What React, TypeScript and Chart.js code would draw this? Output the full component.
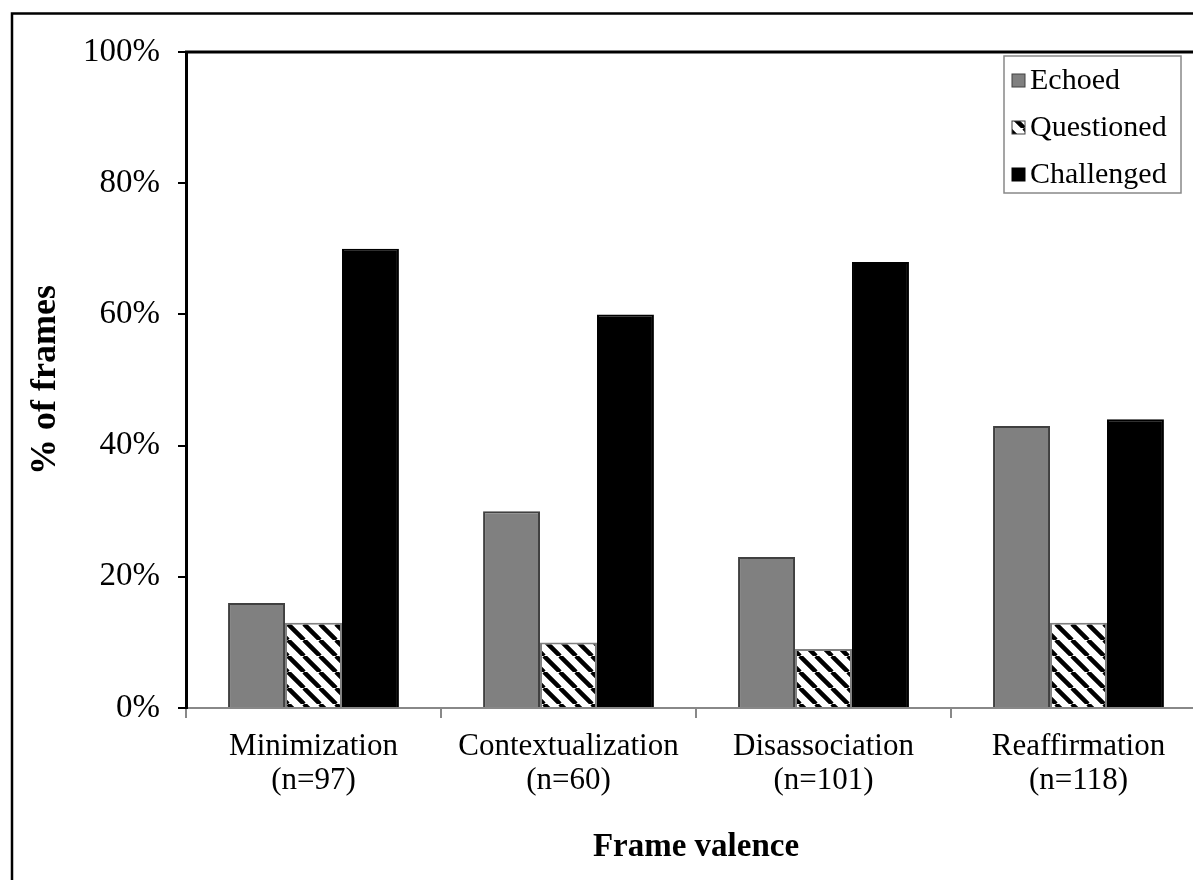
import React, { useEffect, useRef } from "react";
import { Chart, registerables } from "chart.js";

Chart.register(...registerables);

const categories: string[][] = [
  ["Minimization", "(n=97)"],
  ["Contextualization", "(n=60)"],
  ["Disassociation", "(n=101)"],
  ["Reaffirmation", "(n=118)"],
];
const seriesNames = ["Echoed", "Questioned", "Challenged"];
const echoed = [16, 30, 23, 43];
const questioned = [13, 10, 9, 13];
const challenged = [70, 60, 68, 44];
const yMin = 0;
const yMax = 100;
const yStep = 20;

const W = 1240;
const H = 880;
const FONT = '"Liberation Serif", "Times New Roman", serif';

function makeHatch(ctx: CanvasRenderingContext2D): CanvasPattern | string {
  const c = document.createElement("canvas");
  c.width = 16;
  c.height = 16;
  const g = c.getContext("2d");
  if (!g) return "#888";
  g.fillStyle = "#fff";
  g.fillRect(0, 0, 16, 16);
  g.strokeStyle = "#000";
  g.lineWidth = 4.5;
  g.beginPath();
  for (const o of [-16, 0, 16]) {
    g.moveTo(o, 0);
    g.lineTo(o + 16, 16);
  }
  g.stroke();
  return ctx.createPattern(c, "repeat") || "#888";
}

export default function App() {
  const ref = useRef<HTMLCanvasElement | null>(null);

  useEffect(() => {
    document.body.style.overflow = "hidden";
    const canvas = ref.current;
    if (!canvas) return;
    const ctx = canvas.getContext("2d");
    if (!ctx) return;
    const hatch = makeHatch(ctx);

    const decor = {
      id: "decor",
      afterDraw(chart: any) {
        const c = chart.ctx as CanvasRenderingContext2D;
        const a = chart.chartArea;
        c.save();
        c.strokeStyle = "#000";
        c.lineWidth = 3;
        c.beginPath();
        c.moveTo(a.left - 1, a.top);
        c.lineTo(W, a.top);
        c.stroke();
        c.lineWidth = 2.5;
        c.strokeRect(12, 13.5, 2000, 2000);
        const lx = 1004, ly = 56, lw = 177, lh = 137;
        c.fillStyle = "#fff";
        c.fillRect(lx, ly, lw, lh);
        c.strokeStyle = "#888";
        c.lineWidth = 1.5;
        c.strokeRect(lx, ly, lw, lh);
        const fills: any[] = ["#808080", hatch, "#000"];
        const borders = ["#404040", "#404040", "#000"];
        c.font = `30px ${FONT}`;
        c.textBaseline = "middle";
        c.textAlign = "left";
        seriesNames.forEach((name, i) => {
          const cy = 80 + i * 47;
          c.fillStyle = fills[i];
          c.fillRect(1012, cy - 6, 13, 13);
          c.strokeStyle = borders[i];
          c.lineWidth = 1;
          c.strokeRect(1012, cy - 6, 13, 13);
          c.fillStyle = "#000";
          c.fillText(name, 1030, cy + 1);
        });
        c.restore();
      },
    };

    const chart = new Chart(ctx, {
      type: "bar",
      data: {
        labels: categories,
        datasets: [
          {
            label: seriesNames[0],
            data: echoed,
            backgroundColor: "#808080",
            borderColor: "#404040",
            borderWidth: 2,
          },
          {
            label: seriesNames[1],
            data: questioned,
            backgroundColor: hatch as any,
            borderColor: "#808080",
            borderWidth: 2,
          },
          {
            label: seriesNames[2],
            data: challenged,
            backgroundColor: "#000",
            borderColor: "#000",
            borderWidth: 2,
          },
        ],
      },
      options: {
        animation: false,
        responsive: false,
        maintainAspectRatio: false,
        devicePixelRatio: 1,
        layout: { padding: { left: 0, top: 52, right: W - 1206, bottom: 0 } },
        datasets: { bar: { categoryPercentage: 0.67, barPercentage: 1.0 } },
        plugins: {
          legend: { display: false },
          tooltip: { enabled: false },
        },
        scales: {
          x: {
            grid: {
              display: true,
              drawOnChartArea: false,
              drawTicks: true,
              tickLength: 10,
              color: "#888",
              lineWidth: 2,
              offset: true,
            },
            border: { display: true, color: "#888", width: 2 },
            ticks: {
              color: "#000",
              font: { family: FONT, size: 31, lineHeight: 1.12 },
              padding: 11,
              maxRotation: 0,
              autoSkip: false,
            },
            title: {
              display: true,
              text: "Frame valence",
              color: "#000",
              font: { family: FONT, size: 33, weight: "bold" },
              padding: { top: 0, bottom: 13 },
            },
            afterFit(scale: any) {
              scale.height = H - 708;
            },
          },
          y: {
            min: yMin,
            max: yMax,
            grid: {
              display: true,
              drawOnChartArea: false,
              drawTicks: true,
              tickLength: 8,
              color: "#000",
              lineWidth: 2,
            },
            border: { display: true, color: "#000", width: 3 },
            ticks: {
              stepSize: yStep,
              color: "#000",
              font: { family: FONT, size: 33 },
              padding: 18,
              callback: (v: any) => `${v}%`,
            },
            title: {
              display: true,
              text: "% of frames",
              color: "#000",
              font: { family: FONT, size: 36, weight: "bold" },
              padding: { top: 24, bottom: 0 },
            },
            afterFit(scale: any) {
              scale.width = 186;
            },
          },
        },
      },
      plugins: [decor],
    });

    return () => {
      chart.destroy();
    };
  }, []);

  return (
    <div style={{ position: "fixed", left: 0, top: 0, width: W, height: H, background: "#fff" }}>
      <canvas ref={ref} width={W} height={H} style={{ display: "block", width: W, height: H }} />
    </div>
  );
}
